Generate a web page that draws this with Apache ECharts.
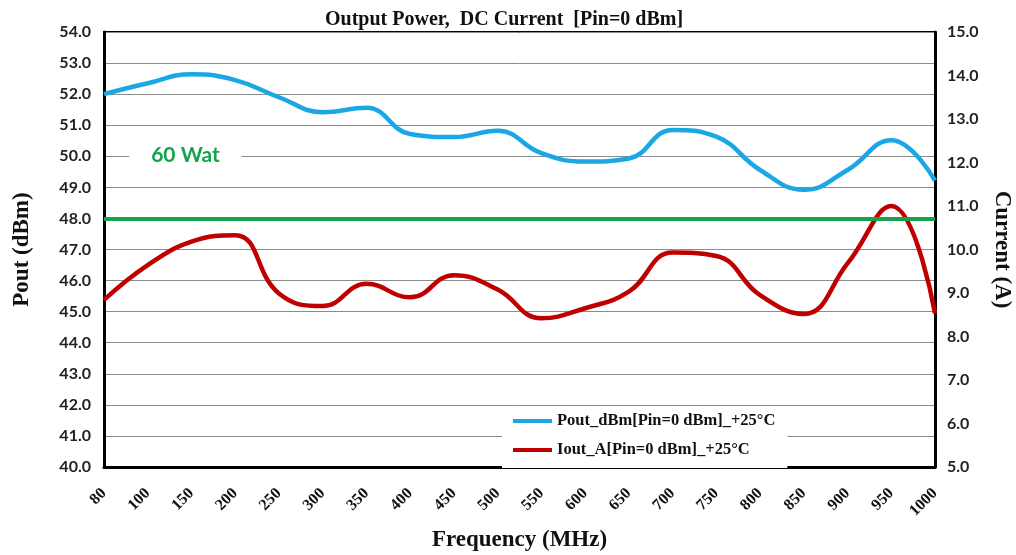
<!DOCTYPE html>
<html>
<head>
<meta charset="utf-8">
<script src="https://cdn.jsdelivr.net/npm/echarts@6/dist/echarts.min.js"></script>
<style>html,body{margin:0;padding:0;background:#fff}#c{width:1016px;height:555px}</style>
</head>
<body>
<div id="c"></div>
<script>
const frequencies = ['80','100','150','200','250','300','350','400','450','500','550','600','650','700','750','800','850','900','950','1000'];
const poutDbm = [52.0,52.35,52.64,52.45,51.9,51.42,51.56,50.72,50.62,50.82,50.1,49.83,49.93,50.85,50.63,49.56,48.92,49.56,50.52,49.22];
const ioutA = [8.84,9.64,10.18,10.33,8.99,8.70,9.21,8.90,9.41,9.08,8.42,8.65,9.03,9.93,9.85,8.95,8.52,9.68,11.0,8.53];
const limitDbm = 48.0;
const limitLabel = '60 Wat';
const limitLabelAt = ['150', 50.0];
const titleText = 'Output Power,  DC Current  [Pin=0 dBm]';
const seriesNames = ['Pout_dBm[Pin=0 dBm]_+25°C', 'Iout_A[Pin=0 dBm]_+25°C'];

const serif = '"Liberation Serif", "Times New Roman", serif';
const sans = 'Lato, "Open Sans", sans-serif';

const chart = echarts.init(document.getElementById('c'));
chart.setOption({
  animation: false,
  backgroundColor: '#fff',
  title: {
    text: titleText,
    left: 320, top: 5,
    textStyle: { fontFamily: serif, fontWeight: 'bold', fontSize: 20, color: '#111' }
  },
  grid: {
    left: 104, right: 81, top: 32, bottom: 88,
    outerBoundsMode: 'none', containLabel: false,
    show: true, borderColor: '#000', borderWidth: 2, backgroundColor: 'transparent'
  },
  legend: {
    orient: 'vertical',
    left: 502, top: 407,
    backgroundColor: '#fff',
    padding: [5, 12, 9, 11],
    itemGap: 11,
    itemWidth: 39, itemHeight: 4,
    icon: 'rect',
    textStyle: { fontFamily: serif, fontWeight: 'bold', fontSize: 16.5, color: '#111', lineHeight: 18 },
    data: seriesNames
  },
  xAxis: {
    type: 'category',
    data: frequencies,
    boundaryGap: false,
    name: 'Frequency (MHz)',
    nameLocation: 'middle',
    nameGap: 62,
    nameTextStyle: { fontFamily: serif, fontWeight: 'bold', fontSize: 23, color: '#111' },
    axisLine: { lineStyle: { color: '#000', width: 3 } },
    axisTick: { show: false },
    axisLabel: { rotate: 45, margin: 24, interval: 0, fontFamily: serif, fontWeight: 'bold', fontSize: 16, color: '#111' },
    splitLine: { show: false }
  },
  yAxis: [
    {
      type: 'value', min: 40, max: 54, interval: 1,
      name: 'Pout (dBm)', nameLocation: 'middle', nameGap: 70,
      nameTextStyle: { fontFamily: serif, fontWeight: 'bold', fontSize: 23, color: '#111' },
      axisLine: { show: true, lineStyle: { color: '#000', width: 3 } },
      axisTick: { show: false },
      axisLabel: { margin: 13, formatter: v => v.toFixed(1), fontFamily: sans, fontWeight: 'bold', fontSize: 16, color: '#222' },
      splitLine: { show: true, lineStyle: { color: '#8c8c8c', width: 1 } }
    },
    {
      type: 'value', min: 5, max: 15, interval: 1,
      name: 'Current (A)', nameLocation: 'middle', nameGap: 55, nameRotate: -90,
      nameTextStyle: { fontFamily: serif, fontWeight: 'bold', fontSize: 23, color: '#111' },
      axisLine: { show: true, lineStyle: { color: '#000', width: 3 } },
      axisTick: { show: false },
      axisLabel: { margin: 12, formatter: v => v.toFixed(1), fontFamily: sans, fontWeight: 'bold', fontSize: 16, color: '#222' },
      splitLine: { show: false }
    }
  ],
  series: [
    {
      name: seriesNames[0], type: 'line', yAxisIndex: 0, data: poutDbm,
      smooth: 0.45, symbol: 'none',
      lineStyle: { color: '#1AA7E4', width: 4.5 }, itemStyle: { color: '#1AA7E4' },
      markLine: {
        silent: true, symbol: 'none', label: { show: false },
        lineStyle: { color: '#14A34A', width: 4, type: 'solid' },
        data: [{ yAxis: limitDbm }]
      },
      markPoint: {
        silent: true,
        symbol: 'rect', symbolSize: 1, itemStyle: { color: 'rgba(0,0,0,0)' },
        label: {
          show: true, position: 'inside', offset: [-6, -1], formatter: limitLabel,
          fontFamily: sans, fontWeight: 'bold', fontSize: 21, color: '#14A34A',
          backgroundColor: '#fff', padding: [3, 22]
        },
        data: [{ coord: limitLabelAt }]
      },
      z: 3
    },
    {
      name: seriesNames[1], type: 'line', yAxisIndex: 1, data: ioutA,
      smooth: 0.45, symbol: 'none',
      lineStyle: { color: '#C00000', width: 4.5 }, itemStyle: { color: '#C00000' },
      z: 2
    }
  ]
});
</script>
</body>
</html>
